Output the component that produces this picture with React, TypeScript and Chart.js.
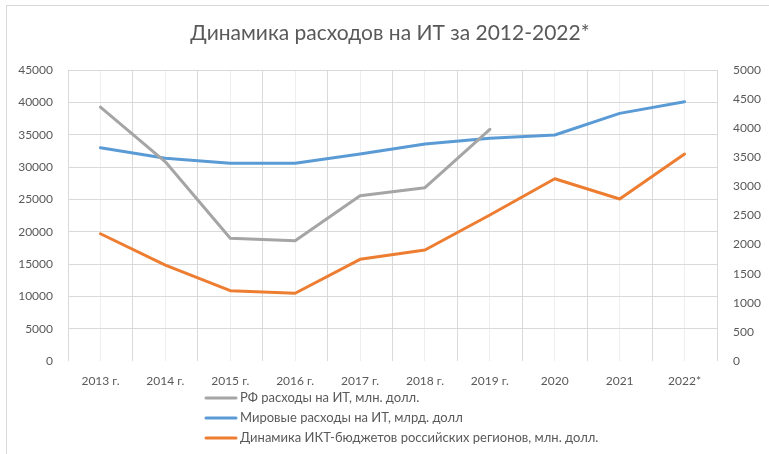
import React, { useEffect, useRef } from "react";
import { Chart, registerables } from "chart.js";

Chart.register(...registerables);

const title = "Динамика расходов на ИТ за 2012-2022*";
const categories = ["2013 г.", "2014 г.", "2015 г.", "2016 г.", "2017 г.", "2018 г.", "2019 г.", "2020", "2021", "2022*"];
const rfSpending = [39270, 30800, 18970, 18600, 25560, 26800, 35820, null, null, null];
const worldSpending = [3665, 3482, 3396, 3396, 3556, 3728, 3826, 3883, 4255, 4455];
const regionBudgets = [19680, 14840, 10870, 10470, 15720, 17160, 22570, 28180, 25050, 32000];
const seriesNames = [
  "РФ расходы на ИТ, млн. долл.",
  "Мировые расходы на ИТ, млрд. долл",
  "Динамика ИКТ-бюджетов российских регионов, млн. долл.",
];

const FONT = "Lato, 'Open Sans', sans-serif";
const TEXT = "#595959";

const decor = {
  id: "decor",
  beforeDraw(chart: any) {
    const { ctx } = chart;
    ctx.save();
    ctx.strokeStyle = "#d9d9d9";
    ctx.lineWidth = 1;
    ctx.strokeRect(6.5, 5.5, 900, 900);
    ctx.restore();
  },
  afterDraw(chart: any) {
    const { ctx } = chart;
    ctx.save();
    ctx.fillStyle = TEXT;
    ctx.font = `21px ${FONT}`;
    ctx.textAlign = "center";
    ctx.textBaseline = "middle";
    ctx.fillText(title, 390, 33);
    // vertical legend
    ctx.font = `13px ${FONT}`;
    ctx.textAlign = "left";
    const rows = [398, 418, 438];
    chart.data.datasets.forEach((ds: any, i: number) => {
      const y = rows[i];
      ctx.strokeStyle = ds.borderColor;
      ctx.lineWidth = 3;
      ctx.lineCap = "round";
      ctx.beginPath();
      ctx.moveTo(206, y);
      ctx.lineTo(236, y);
      ctx.stroke();
      ctx.fillStyle = TEXT;
      ctx.fillText(ds.label, 240, y);
    });
    ctx.restore();
  },
};

const plain = (v: any) => String(v);

export default function App() {
  const ref = useRef<HTMLCanvasElement | null>(null);
  useEffect(() => {
    if (!ref.current) return;
    const chart = new Chart(ref.current, {
      type: "line",
      data: {
        labels: categories,
        datasets: [
          { label: seriesNames[0], data: rfSpending, borderColor: "#A5A5A5", yAxisID: "y" },
          { label: seriesNames[1], data: worldSpending, borderColor: "#5B9BD5", yAxisID: "y2" },
          { label: seriesNames[2], data: regionBudgets, borderColor: "#ED7D31", yAxisID: "y" },
        ].map((d) => ({
          ...d,
          backgroundColor: d.borderColor,
          borderWidth: 3,
          pointRadius: 0,
          pointHoverRadius: 0,
          tension: 0,
          borderJoinStyle: "round" as const,
          borderCapStyle: "round" as const,
          spanGaps: false,
        })),
      },
      plugins: [decor],
      options: {
        responsive: false,
        animation: false,
        layout: { padding: { left: 0, right: 0, top: 70, bottom: 63 } },
        plugins: {
          legend: { display: false },
          title: { display: false },
          tooltip: { enabled: false },
        },
        scales: {
          x: {
            type: "category",
            position: "bottom",
            offset: true,
            grid: { offset: true, color: "#d9d9d9", drawTicks: false },
            border: { display: false },
            ticks: { color: TEXT, font: { family: FONT, size: 12 }, padding: 13, maxRotation: 0, autoSkip: false },
            afterFit: (s: any) => { s.height = 30; },
          },
          x2: {
            type: "category",
            position: "top",
            offset: true,
            grid: { offset: false, color: "#eeeeee", drawTicks: false },
            border: { display: false },
            ticks: { display: false },
            afterFit: (s: any) => { s.height = 0; },
          },
          y: {
            position: "left",
            min: 0,
            max: 45000,
            ticks: { stepSize: 5000, color: TEXT, font: { family: FONT, size: 12 }, padding: 15, callback: plain },
            grid: { color: (c: any) => (c.tick && c.tick.value === 0 ? "rgba(0,0,0,0)" : "#d9d9d9"), drawTicks: false },
            border: { display: false },
            afterFit: (s: any) => { s.width = 68; },
          },
          y2: {
            position: "right",
            min: 0,
            max: 5000,
            ticks: { stepSize: 500, color: TEXT, font: { family: FONT, size: 12 }, padding: 16, callback: plain },
            grid: { display: false, drawTicks: false },
            border: { display: false },
            afterFit: (s: any) => { s.width = 52; },
          },
        },
      },
    });
    return () => chart.destroy();
  }, []);
  return (
    <div style={{ position: "fixed", left: 0, top: 0, width: 769, height: 454, background: "#fff" }}>
      <canvas ref={ref} width={769} height={454} style={{ display: "block" }} />
    </div>
  );
}
